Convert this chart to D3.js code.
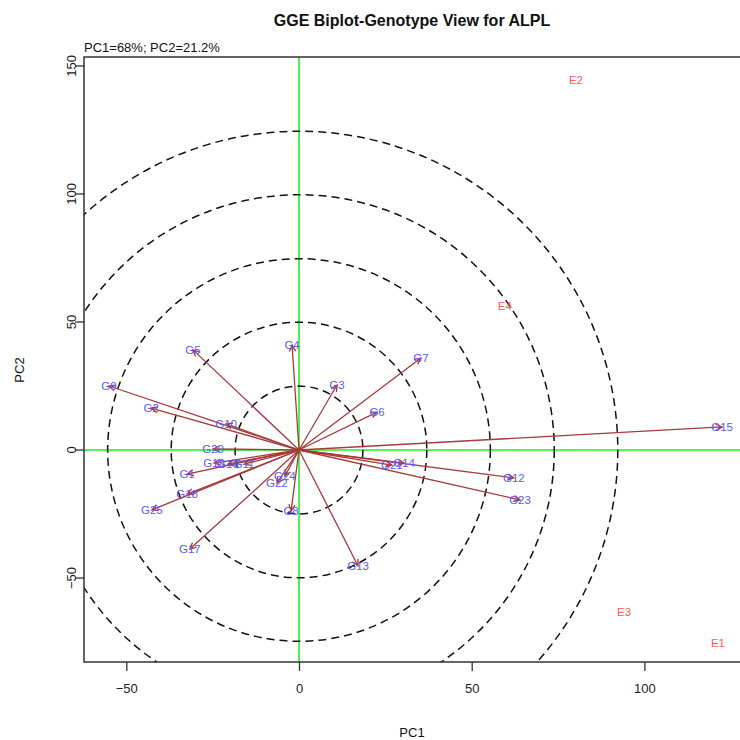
<!DOCTYPE html>
<html>
<head>
<meta charset="utf-8">
<script src="https://cdn.jsdelivr.net/npm/d3@7"></script>
<style>
  html, body { margin: 0; padding: 0; background: #fff; }
  svg { display: block; font-family: "Liberation Sans", Arial, sans-serif; }
</style>
</head>
<body>
<svg id="chart" width="740" height="740"></svg>
<script>
// Genotype scores (PC1, PC2)
const genotypes = ["G1","G2","G3","G4","G5","G6","G7","G8","G9","G10","G11","G12","G13",
                   "G14","G15","G16","G17","G18","G19","G20","G21","G22","G23","G24","G25"];
const genoPC1 = [-32.4,-42.8,11.0,-2.0,-30.7,22.6,35.3,-2.3,-55.0,-21.1,-15.9,62.2,17.1,
                 30.4,122.5,-20.6,-31.6,-32.4,-24.6,-24.9,26.9,-6.4,64.0,-4.1,-42.6];
const genoPC2 = [-9.4,16.4,25.4,41.0,39.1,14.8,35.9,-23.8,25.0,10.2,-5.5,-10.9,-45.3,
                 -5.1,9.0,-5.5,-38.7,-17.2,-5.1,0.4,-5.9,-12.9,-19.5,-10.2,-23.4];

// Environment scores (PC1, PC2)
const environments = ["E1","E2","E3","E4"];
const envPC1 = [121.3, 80.2, 94.1, 59.6];
const envPC2 = [-75.4, 144.5, -63.3, 56.3];

// Concentric reference circles (radius in PC1 units)
const ringRadii = [18.5, 37.0, 55.4, 73.9, 92.3];

const xTicks = [-50, 0, 50, 100];
const yTicks = [-50, 0, 50, 100, 150];

const titleText = "GGE Biplot-Genotype View for ALPL";
const subtitleText = "PC1=68%; PC2=21.2%";

const svg = d3.select("#chart");
const plot = { left: 84, right: 742, top: 57, bottom: 662 };

const x = d3.scaleLinear().domain([-62.25, 128.26]).range([plot.left, plot.right]);
const y = d3.scaleLinear().domain([-82.8, 153.5]).range([plot.bottom, plot.top]);

svg.append("defs").append("clipPath").attr("id", "clip")
  .append("rect")
  .attr("x", plot.left).attr("y", plot.top)
  .attr("width", plot.right - plot.left).attr("height", plot.bottom - plot.top);

const g = svg.append("g").attr("clip-path", "url(#clip)");

// Green axes through the origin
g.append("line")
  .attr("x1", x(0)).attr("x2", x(0)).attr("y1", plot.top).attr("y2", plot.bottom)
  .attr("stroke", "#22ee22").attr("stroke-width", 1.6);
g.append("line")
  .attr("x1", plot.left).attr("x2", plot.right).attr("y1", y(0)).attr("y2", y(0))
  .attr("stroke", "#22ee22").attr("stroke-width", 1.6);

// Dashed circles
const pxPerUnit = x(1) - x(0);
g.selectAll("circle.ring").data(ringRadii).enter().append("circle")
  .attr("class", "ring")
  .attr("cx", x(0)).attr("cy", y(0))
  .attr("r", d => d * pxPerUnit)
  .attr("fill", "none")
  .attr("stroke", "#111")
  .attr("stroke-width", 1.5)
  .attr("stroke-dasharray", "8,5");

// Genotype vectors with arrowheads
const genoData = genotypes.map((name, i) => ({ name, pc1: genoPC1[i], pc2: genoPC2[i] }));
const arrowColor = "#a83a3a";
const headLen = 7, headAng = Math.PI / 7;

g.selectAll("path.vec").data(genoData).enter().append("path")
  .attr("class", "vec")
  .attr("d", d => {
    const x0 = x(0), y0 = y(0), x1 = x(d.pc1), y1 = y(d.pc2);
    const a = Math.atan2(y1 - y0, x1 - x0);
    const hx1 = x1 - headLen * Math.cos(a - headAng), hy1 = y1 - headLen * Math.sin(a - headAng);
    const hx2 = x1 - headLen * Math.cos(a + headAng), hy2 = y1 - headLen * Math.sin(a + headAng);
    return `M${x0},${y0}L${x1},${y1}M${hx1},${hy1}L${x1},${y1}L${hx2},${hy2}`;
  })
  .attr("fill", "none")
  .attr("stroke", arrowColor)
  .attr("stroke-width", 1.3);

// Genotype labels
g.selectAll("text.geno").data(genoData).enter().append("text")
  .attr("class", "geno")
  .attr("x", d => x(d.pc1)).attr("y", d => y(d.pc2))
  .attr("dy", "0.35em")
  .attr("text-anchor", "middle")
  .attr("font-size", 11.5)
  .attr("fill", "#5a5aff")
  .text(d => d.name);

// Environment labels
const envData = environments.map((name, i) => ({ name, pc1: envPC1[i], pc2: envPC2[i] }));
g.selectAll("text.env").data(envData).enter().append("text")
  .attr("class", "env")
  .attr("x", d => x(d.pc1)).attr("y", d => y(d.pc2))
  .attr("dy", "0.35em")
  .attr("text-anchor", "middle")
  .attr("font-size", 11.5)
  .attr("fill", "#ff5a5a")
  .text(d => d.name);

// Plot frame
svg.append("rect")
  .attr("x", plot.left).attr("y", plot.top)
  .attr("width", plot.right - plot.left).attr("height", plot.bottom - plot.top)
  .attr("fill", "none").attr("stroke", "#333").attr("stroke-width", 1.5);

// Axes
const xAxis = svg.append("g")
  .attr("transform", `translate(0,${plot.bottom})`)
  .call(d3.axisBottom(x).tickValues(xTicks).tickSize(9).tickPadding(13).tickFormat(d3.format("d")));
const yAxis = svg.append("g")
  .attr("transform", `translate(${plot.left},0)`)
  .call(d3.axisLeft(y).tickValues(yTicks).tickSize(9).tickPadding(8).tickFormat(d3.format("d")));
[xAxis, yAxis].forEach(ax => {
  ax.select(".domain").remove();
  ax.selectAll(".tick line").attr("stroke", "#333").attr("stroke-width", 1.3);
  ax.selectAll(".tick text").attr("font-size", 13).attr("fill", "#222")
    .attr("font-family", "'Liberation Sans', Arial, sans-serif");
});
yAxis.selectAll(".tick text")
  .attr("text-anchor", "middle")
  .attr("transform", d => `rotate(-90, ${-13}, ${y(d)})`)
  .attr("x", -13).attr("y", d => y(d)).attr("dy", "0.35em");
yAxis.selectAll(".tick").attr("transform", null);
yAxis.selectAll(".tick line").attr("y1", d => y(d)).attr("y2", d => y(d));

// Titles
svg.append("text")
  .attr("x", 412).attr("y", 26)
  .attr("text-anchor", "middle")
  .attr("font-size", 16).attr("font-weight", "bold").attr("fill", "#111")
  .text(titleText);
svg.append("text")
  .attr("x", 84).attr("y", 52)
  .attr("font-size", 13).attr("fill", "#111")
  .text(subtitleText);
svg.append("text")
  .attr("x", 412).attr("y", 737)
  .attr("text-anchor", "middle")
  .attr("font-size", 13).attr("fill", "#111")
  .text("PC1");
svg.append("text")
  .attr("transform", "translate(24,370) rotate(-90)")
  .attr("text-anchor", "middle")
  .attr("font-size", 13).attr("fill", "#111")
  .text("PC2");
</script>
</body>
</html>
